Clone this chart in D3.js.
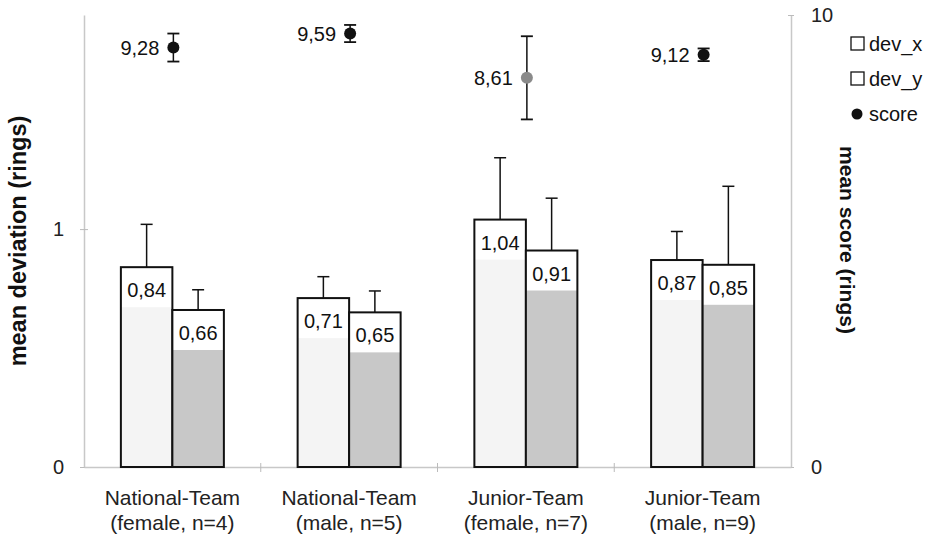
<!DOCTYPE html>
<html><head><meta charset="utf-8">
<script src="https://cdn.jsdelivr.net/npm/d3@7"></script>
<style>body{margin:0;background:#fff}svg{display:block;font-family:"Liberation Sans",Arial,sans-serif}</style>
</head><body><svg id="c" width="935" height="537"></svg>
<script>
const categories = [["National-Team","(female, n=4)"],["National-Team","(male, n=5)"],["Junior-Team","(female, n=7)"],["Junior-Team","(male, n=9)"]];
const devX = [0.84, 0.71, 1.04, 0.87];
const devXErr = [0.18, 0.09, 0.26, 0.12];
const devY = [0.66, 0.65, 0.91, 0.85];
const devYErr = [0.085, 0.09, 0.22, 0.33];
const score = [9.28, 9.59, 8.61, 9.12];
const scoreErr = [0.31, 0.19, 0.92, 0.14];
const leftTicks = [0, 1];
const rightTicks = [0, 10];
const legendLabels = ["dev_x", "dev_y", "score"];

const svg = d3.select("#c");
const FS = 20;
const L = 84, R = 791, T = 15, B = 467;
const x = d3.scaleBand().domain(d3.range(categories.length)).range([L, R]);
const yL = d3.scaleLinear().domain([0, 1.9]).range([B, T]);
const yR = d3.scaleLinear().domain([0, 10]).range([B, T]);
const bw = 51.5;

// axes
const axL = svg.append("g").attr("transform", `translate(${L},0)`).call(d3.axisLeft(yL).tickValues(leftTicks).tickSize(8).tickSizeOuter(0).tickPadding(12));
axL.selectAll("text").text(d => d);
axL.selectAll(".tick line").attr("transform","translate(4,0)");
const axR = svg.append("g").attr("transform", `translate(${R},0)`).call(d3.axisRight(yR).tickValues(rightTicks).tickSize(6).tickSizeOuter(0).tickPadding(14));
axR.selectAll(".tick line").attr("transform","translate(-3,0)");
const axB = svg.append("g").attr("transform", `translate(0,${B})`).call(d3.axisBottom(x).tickSize(0).tickFormat(""));
[axL, axR, axB].forEach(a => {
  a.attr("font-size", FS).attr("font-family", "Liberation Sans, Arial, sans-serif");
  a.select(".domain").attr("stroke", "#c8c8c8").attr("stroke-width", 1.5);
  a.selectAll(".tick line").attr("stroke", "#bbb");
  a.selectAll("text").attr("font-size", FS).attr("fill", "#222");
});
// category boundary ticks
svg.append("g").selectAll("line").data(d3.range(1, categories.length)).join("line")
  .attr("x1", i => x(i)).attr("x2", i => x(i)).attr("y1", B - 4).attr("y2", B + 5)
  .attr("stroke", "#bbb");

// category labels
const cl = svg.append("g").selectAll("text").data(categories).join("text")
  .attr("x", (d, i) => x(i) + x.bandwidth() / 2).attr("text-anchor", "middle")
  .attr("font-size", 21).attr("fill", "#222");
cl.append("tspan").attr("x", (d, i) => x(i) + x.bandwidth() / 2).attr("y", 505).text(d => d[0]);
cl.append("tspan").attr("x", (d, i) => x(i) + x.bandwidth() / 2).attr("y", 530).text(d => d[1]);

// bars
const series = [
  {vals: devX, err: devXErr, fill: "#f4f4f4", off: -bw},
  {vals: devY, err: devYErr, fill: "#c8c8c8", off: 0}
];
series.forEach(s => {
  const g = svg.append("g");
  s.vals.forEach((v, i) => {
    const cx = x(i) + x.bandwidth() / 2 + s.off;
    g.append("line").attr("x1", cx + bw/2).attr("x2", cx + bw/2).attr("y1", yL(v)).attr("y2", yL(v + s.err[i])).attr("stroke", "#111").attr("stroke-width", 1.5);
    g.append("line").attr("x1", cx + bw/2 - 6).attr("x2", cx + bw/2 + 6).attr("y1", yL(v + s.err[i])).attr("y2", yL(v + s.err[i])).attr("stroke", "#111").attr("stroke-width", 1.5);
    g.append("rect").attr("x", cx).attr("y", yL(v)).attr("width", bw).attr("height", yL(0) - yL(v))
      .attr("fill", s.fill);
    g.append("rect").attr("x", cx).attr("y", yL(v)).attr("width", bw).attr("height", 40).attr("fill", "#fff");
    g.append("rect").attr("x", cx).attr("y", yL(v)).attr("width", bw).attr("height", yL(0) - yL(v))
      .attr("fill", "none").attr("stroke", "#111").attr("stroke-width", 2);
    g.append("text").attr("x", cx + bw / 2).attr("y", yL(v) + 30).attr("text-anchor", "middle")
      .attr("font-size", FS).attr("fill", "#111").text(d3.format(".2f")(v).replace(".", ","));
  });
});

// score points
const sg = svg.append("g");
score.forEach((v, i) => {
  const cx = x(i) + x.bandwidth() / 2 + 1;
  const col = i === 2 ? "#8a8a8a" : "#111";
  sg.append("line").attr("x1", cx).attr("x2", cx).attr("y1", yR(v - scoreErr[i])).attr("y2", yR(v + scoreErr[i])).attr("stroke", "#111").attr("stroke-width", 1.5);
  [v - scoreErr[i], v + scoreErr[i]].forEach(e => sg.append("line").attr("x1", cx - 6).attr("x2", cx + 6).attr("y1", yR(e)).attr("y2", yR(e)).attr("stroke", "#111").attr("stroke-width", 1.8));
  sg.append("circle").attr("cx", cx).attr("cy", yR(v)).attr("r", 6).attr("fill", col);
  sg.append("text").attr("x", cx - 14).attr("y", yR(v) + 7).attr("text-anchor", "end")
    .attr("font-size", FS).attr("fill", "#111").text(d3.format(".2f")(v).replace(".", ","));
});

// axis titles
svg.append("text").attr("transform", "translate(26,241) rotate(-90)").attr("text-anchor", "middle")
  .attr("font-size", 23.5).attr("font-weight", "bold").attr("fill", "#111").text("mean deviation (rings)");
svg.append("text").attr("transform", "translate(840,240) rotate(90)").attr("text-anchor", "middle")
  .attr("font-size", 21).attr("font-weight", "bold").attr("fill", "#111").text("mean score (rings)");

// legend
const lg = svg.append("g");
legendLabels.forEach((t, i) => {
  const y = 51 + i * 35;
  if (i < 2) lg.append("rect").attr("x", 851).attr("y", y - 14).attr("width", 13).attr("height", 13).attr("fill", "#fff").attr("stroke", "#111").attr("stroke-width", 1.3);
  else lg.append("circle").attr("cx", 857).attr("cy", y - 7).attr("r", 5.5).attr("fill", "#111");
  lg.append("text").attr("x", 869).attr("y", y).attr("font-size", FS).attr("fill", "#111").text(t);
});
</script></body></html>
